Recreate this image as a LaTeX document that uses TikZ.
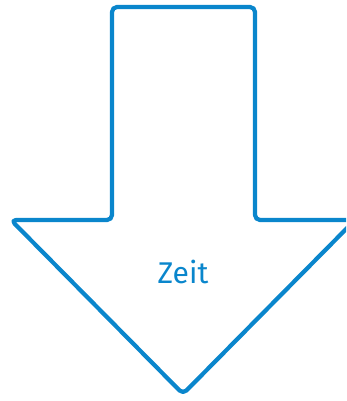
\documentclass[tikz,border=0pt]{standalone}
\usepackage{fontspec}
\setmainfont{Fira Sans}
\definecolor{ArrowBlue}{HTML}{0A86CC}
\tikzset{
  timearrow/.style={
    draw=ArrowBlue,
    line width=4.2pt,
    rounded corners=5pt,
    line join=round
  },
  timelabel/.style={
    font=\fontsize{30}{34}\selectfont,
    text=ArrowBlue
  }
}
\begin{document}
\begin{tikzpicture}[x=1pt,y=-1pt]
\useasboundingbox (0,0) rectangle (346,401);
\clip (0,0) rectangle (346,401);
% big arrow pointing down
\draw[timearrow] (112,7) -- (255,7) -- (255,220) -- (355,220)
  -- (183,394) -- (11,220) -- (112,220) -- cycle;
\node[timelabel] (zeit) at (183,272) {Zeit};
\end{tikzpicture}
\end{document}
